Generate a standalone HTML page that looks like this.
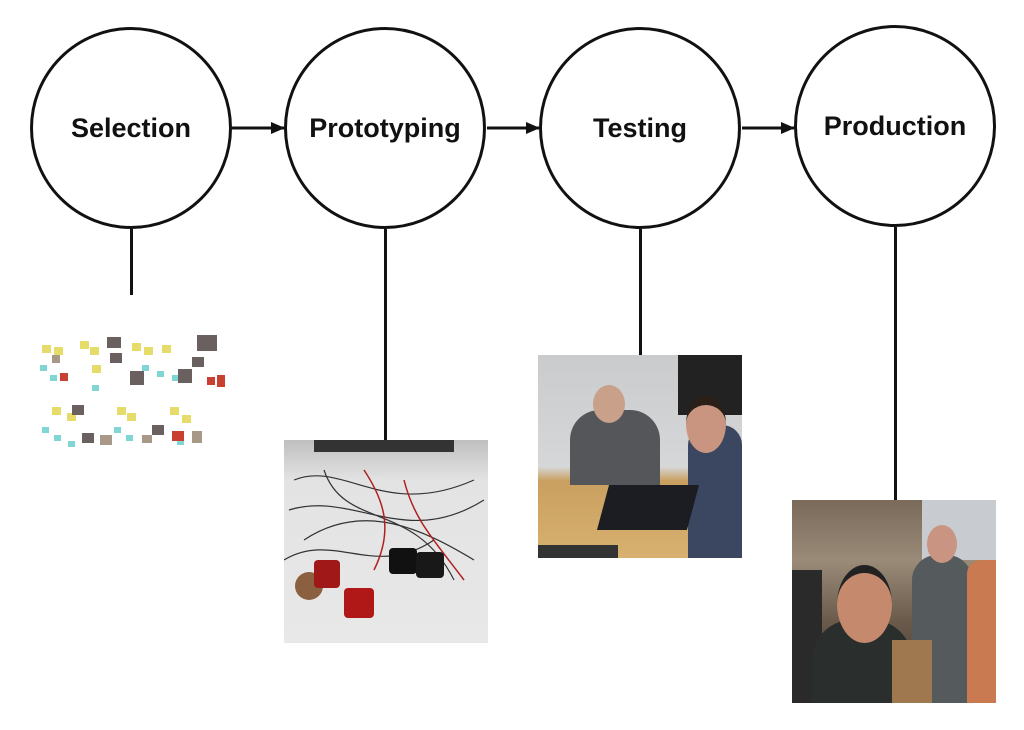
<!DOCTYPE html>
<html><head><meta charset="utf-8"><style>
html,body{margin:0;padding:0;background:#fff;}
body{width:1024px;height:730px;position:relative;overflow:hidden;font-family:"Liberation Sans",sans-serif;}
.c{position:absolute;width:202px;height:202px;border:3px solid #111;border-radius:50%;box-sizing:border-box;display:flex;align-items:center;justify-content:center;font-weight:bold;font-size:27px;color:#111;}
.v{position:absolute;width:3px;background:#111;}
.p{position:absolute;overflow:hidden;}
.s{position:absolute;width:9px;height:8px;}
</style></head><body>
<div class="c" style="left:30px;top:27px;">Selection</div>
<div class="c" style="left:284px;top:27px;">Prototyping</div>
<div class="c" style="left:539px;top:27px;">Testing</div>
<div class="c" style="left:794px;top:25px;">Production</div>
<svg width="1024" height="730" style="position:absolute;left:0;top:0">
<defs><marker id="a" markerWidth="14" markerHeight="12" refX="13" refY="6" orient="auto" markerUnits="userSpaceOnUse"><path d="M0,0 L14,6 L0,12 z" fill="#111"/></marker></defs>
<line x1="232" y1="128" x2="284" y2="128" stroke="#111" stroke-width="3" marker-end="url(#a)"/>
<line x1="487" y1="128" x2="539" y2="128" stroke="#111" stroke-width="3" marker-end="url(#a)"/>
<line x1="742" y1="128" x2="794" y2="128" stroke="#111" stroke-width="3" marker-end="url(#a)"/>
</svg>
<div class="v" style="left:130px;top:229px;height:66px"></div>
<div class="v" style="left:384px;top:229px;height:211px"></div>
<div class="v" style="left:639px;top:229px;height:126px"></div>
<div class="v" style="left:894px;top:227px;height:273px"></div>
<!-- selection collage -->
<div class="p" style="left:32px;top:335px;width:198px;height:122px;">
<svg width="198" height="122">
<g fill="#e6dc6a"><rect x="10" y="10" width="9" height="8"/><rect x="22" y="12" width="9" height="8"/><rect x="48" y="6" width="9" height="8"/><rect x="58" y="12" width="9" height="8"/><rect x="100" y="8" width="9" height="8"/><rect x="112" y="12" width="9" height="8"/><rect x="130" y="10" width="9" height="8"/><rect x="20" y="72" width="9" height="8"/><rect x="35" y="78" width="9" height="8"/><rect x="85" y="72" width="9" height="8"/><rect x="95" y="78" width="9" height="8"/><rect x="138" y="72" width="9" height="8"/><rect x="150" y="80" width="9" height="8"/><rect x="60" y="30" width="9" height="8"/></g>
<g fill="#7fd6d3"><rect x="8" y="30" width="7" height="6"/><rect x="18" y="40" width="7" height="6"/><rect x="10" y="92" width="7" height="6"/><rect x="22" y="100" width="7" height="6"/><rect x="36" y="106" width="7" height="6"/><rect x="82" y="92" width="7" height="6"/><rect x="94" y="100" width="7" height="6"/><rect x="110" y="30" width="7" height="6"/><rect x="125" y="36" width="7" height="6"/><rect x="140" y="40" width="7" height="6"/><rect x="145" y="104" width="7" height="6"/><rect x="60" y="50" width="7" height="6"/></g>
<g fill="#6a6060"><rect x="75" y="2" width="14" height="11"/><rect x="165" y="0" width="20" height="16"/><rect x="98" y="36" width="14" height="14"/><rect x="146" y="34" width="14" height="14"/><rect x="160" y="22" width="12" height="10"/><rect x="78" y="18" width="12" height="10"/><rect x="50" y="98" width="12" height="10"/><rect x="120" y="90" width="12" height="10"/><rect x="40" y="70" width="12" height="10"/></g>
<g fill="#c84030"><rect x="185" y="40" width="8" height="12"/><rect x="28" y="38" width="8" height="8"/><rect x="140" y="96" width="12" height="10"/><rect x="175" y="42" width="8" height="8"/></g>
<g fill="#a89888"><rect x="68" y="100" width="12" height="10"/><rect x="160" y="96" width="10" height="12"/><rect x="110" y="100" width="10" height="8"/><rect x="20" y="20" width="8" height="8"/></g>
</svg></div>
<!-- prototyping photo -->
<div class="p" style="left:284px;top:440px;width:204px;height:203px;background:linear-gradient(180deg,#bfbfc0 0%,#e3e3e3 20%,#e8e8e8 100%);">
<svg width="204" height="203"><g stroke="#333" stroke-width="1.2" fill="none">
<path d="M10,40 C60,20 100,80 190,40"/><path d="M5,70 C70,50 120,110 200,60"/><path d="M20,100 C80,60 140,90 190,120"/><path d="M40,30 C60,90 130,60 170,140"/><path d="M0,120 C50,90 90,140 150,100"/></g>
<g stroke="#b02020" stroke-width="1.5" fill="none"><path d="M80,30 C100,60 110,90 90,130"/><path d="M120,40 C130,80 150,100 180,140"/></g>
<rect x="30" y="0" width="140" height="12" fill="#333"/>
<circle cx="25" cy="146" r="14" fill="#8a6040"/><rect x="30" y="120" width="26" height="28" fill="#a01818" rx="4"/>
<rect x="60" y="148" width="30" height="30" fill="#b01818" rx="4"/><rect x="105" y="108" width="28" height="26" fill="#111" rx="4"/><rect x="132" y="112" width="28" height="26" fill="#181818" rx="4"/></svg></div>
<!-- testing photo -->
<div class="p" style="left:538px;top:355px;width:204px;height:203px;background:linear-gradient(180deg,#c9cbcd 0%,#d6d7d8 55%,#c9a060 62%,#d8b070 100%);">
<div style="position:absolute;left:140px;top:0;width:64px;height:60px;background:#222"></div>
<div style="position:absolute;left:32px;top:55px;width:90px;height:75px;background:#55565a;border-radius:30px 30px 0 0"></div>
<div style="position:absolute;left:55px;top:30px;width:32px;height:38px;background:#c9a08a;border-radius:50%"></div>
<div style="position:absolute;left:150px;top:70px;width:54px;height:133px;background:#3b4760;border-radius:20px 20px 0 0"></div>
<div style="position:absolute;left:148px;top:40px;width:40px;height:48px;background:#c99580;border-radius:50%;border-top:10px solid #2a2018"></div>
<div style="position:absolute;left:65px;top:130px;width:90px;height:45px;background:#1c1d22;transform:skewX(-15deg)"></div>
<div style="position:absolute;left:0;top:190px;width:80px;height:13px;background:#333"></div></div>
<!-- production photo -->
<div class="p" style="left:792px;top:500px;width:204px;height:203px;background:linear-gradient(180deg,#7a6a5a 0%,#9a8a78 30%,#6a5a4a 60%,#3a3a3a 100%);">
<div style="position:absolute;left:130px;top:0;width:74px;height:60px;background:#c8ccd0"></div>
<div style="position:absolute;left:0;top:70px;width:30px;height:133px;background:#2a2a2a"></div>
<div style="position:absolute;left:20px;top:120px;width:100px;height:83px;background:#2a2e2c;border-radius:40px 40px 0 0"></div>
<div style="position:absolute;left:45px;top:65px;width:55px;height:70px;background:#c58a6e;border-radius:50%;border-top:8px solid #222"></div>
<div style="position:absolute;left:120px;top:55px;width:60px;height:148px;background:#555a5c;border-radius:25px 25px 0 0"></div>
<div style="position:absolute;left:135px;top:25px;width:30px;height:38px;background:#c99582;border-radius:50%"></div>
<div style="position:absolute;left:175px;top:60px;width:29px;height:143px;background:#c97a50;border-radius:14px 0 0 0"></div>
<div style="position:absolute;left:100px;top:140px;width:40px;height:63px;background:#a07850"></div></div>
</body></html>
